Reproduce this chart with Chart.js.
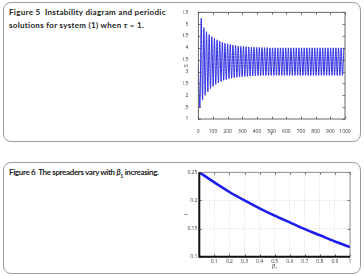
<!DOCTYPE html>
<html lang="en">
<head>
<meta charset="UTF-8">
<title>Figures 5 and 6</title>
<script src="https://cdn.jsdelivr.net/npm/chart.js"></script>
<style>
    html, body { margin: 0; padding: 0; background: #fff; }
    body { width: 364px; height: 276px; position: relative; overflow: hidden; font-family: Lato, sans-serif; }
    .panel { position: absolute; left: 3px; width: 358px; border: 1px solid #9a9a9a; border-radius: 8px; box-sizing: border-box; }
    #panel5 { top: 2px; height: 140px; }
    #panel6 { top: 162px; height: 112px; }
    .caption { position: absolute; left: 9px; font-size: 8px; font-weight: bold; line-height: 13px; color: #222; white-space: nowrap; }
    .caption sub { font-size: 5.4px; line-height: 0; }
    #cap5 { top: 6px; letter-spacing: 0.3px; }
    #cap6 { top: 166px; letter-spacing: -0.35px; }
    canvas { position: absolute; }
    #chart5 { left: 180px; top: 3px; }
    #chart6 { left: 180px; top: 163px; }
</style>
<script>
// Figure 5: peaks and troughs of S(t)
const peakTimes = [20, 38, 56, 74, 92, 110, 128, 146, 164, 182, 200, 218, 236, 254, 272, 290, 308, 326, 344, 362,
    380, 398, 416, 434, 452, 470, 488, 506, 524, 542, 560, 578, 596, 614, 632, 650, 668, 686, 704, 722,
    740, 758, 776, 794, 812, 830, 848, 866, 884, 902, 920, 938, 956, 974, 992];
const peakValues = [5.25, 4.85, 4.68, 4.56, 4.47, 4.40, 4.34, 4.29, 4.24, 4.20, 4.17, 4.14, 4.12, 4.10, 4.08, 4.07, 4.06, 4.05, 4.04, 4.03,
    4.03, 4.02, 4.02, 4.01, 4.01, 4.01, 4.00, 4.00, 4.00, 4.00, 4.00, 4.00, 4.00, 4.00, 4.00, 4.00, 4.00, 4.00, 4.00, 4.00,
    4.00, 4.00, 4.00, 4.00, 4.00, 4.00, 4.00, 4.00, 4.00, 4.00, 4.00, 4.00, 4.00, 4.00, 4.00];
const troughTimes = [11, 29, 47, 65, 83, 101, 119, 137, 155, 173, 191, 209, 227, 245, 263, 281, 299, 317, 335, 353,
    371, 389, 407, 425, 443, 461, 479, 497, 515, 533, 551, 569, 587, 605, 623, 641, 659, 677, 695, 713,
    731, 749, 767, 785, 803, 821, 839, 857, 875, 893, 911, 929, 947, 965, 983];
const troughValues = [1.50, 1.80, 2.00, 2.15, 2.28, 2.38, 2.46, 2.53, 2.58, 2.63, 2.66, 2.69, 2.72, 2.74, 2.76, 2.77, 2.78, 2.79, 2.80, 2.81,
    2.82, 2.82, 2.83, 2.83, 2.84, 2.84, 2.84, 2.84, 2.84, 2.84, 2.84, 2.84, 2.84, 2.84, 2.84, 2.84, 2.84, 2.84, 2.84, 2.84,
    2.84, 2.84, 2.84, 2.84, 2.84, 2.84, 2.84, 2.84, 2.84, 2.84, 2.84, 2.84, 2.84, 2.84, 2.84];
const startTime = 0;
const startValue = 3.2;
const tTicks = ['0', '100', '200', '300', '400', '500', '600', '700', '800', '900', '1000'];
const sTicks = ['1', '1.5', '2', '2.5', '3', '3.5', '4', '4.5', '5', '5.5'];

// Figure 6: spreaders I against beta1
const betaValues = [0, 0.1, 0.2, 0.3, 0.4, 0.5, 0.6, 0.7, 0.8, 0.9, 1];
const spreaderValues = [0.25, 0.232, 0.215, 0.200, 0.186, 0.173, 0.161, 0.149, 0.138, 0.127, 0.117];
const betaTicks = ['', '0.1', '0.2', '0.3', '0.4', '0.5', '0.6', '0.7', '0.8', '0.9', '1'];
const iTicks = ['0.1', '0.15', '0.2', '0.25'];

// draws a MATLAB style box with inward ticks
const matlabAxes = {
    id: 'matlabAxes',
    afterDatasetsDraw(chart, args, opts) {
        const ctx = chart.ctx;
        const a = chart.chartArea;
        const x = chart.scales.x;
        const y = chart.scales.y;
        const len = 2.5;
        ctx.save();
        ctx.strokeStyle = opts.tickColor || '#444';
        ctx.lineWidth = 0.7;
        ctx.beginPath();
        x.ticks.forEach(t => {
            const px = Math.round(x.getPixelForValue(t.value)) + 0.5;
            ctx.moveTo(px, a.bottom); ctx.lineTo(px, a.bottom - len);
            ctx.moveTo(px, a.top); ctx.lineTo(px, a.top + len);
        });
        y.ticks.forEach(t => {
            const py = Math.round(y.getPixelForValue(t.value)) + 0.5;
            ctx.moveTo(a.left, py); ctx.lineTo(a.left + len, py);
            ctx.moveTo(a.right, py); ctx.lineTo(a.right - len, py);
        });
        ctx.stroke();
        ctx.strokeStyle = opts.boxColor || '#444';
        ctx.lineWidth = 0.8;
        ctx.strokeRect(a.left, a.top, a.right - a.left, a.bottom - a.top);
        if (opts.thick) {
            ctx.strokeStyle = '#111';
            ctx.lineWidth = 2;
            ctx.beginPath();
            ctx.moveTo(a.left, a.top);
            ctx.lineTo(a.left, a.bottom);
            ctx.lineTo(a.right, a.bottom);
            ctx.stroke();
        }
        ctx.restore();
    }
};

document.addEventListener("DOMContentLoaded", function () {
    Chart.defaults.font.family = "'Open Sans', sans-serif";
    Chart.defaults.color = '#333';

    // build S(t) points from peaks and troughs
    const sPoints = [{ x: startTime, y: startValue }];
    for (let i = 0; i < peakTimes.length; i++) {
        sPoints.push({ x: troughTimes[i], y: troughValues[i] });
        sPoints.push({ x: peakTimes[i], y: peakValues[i] });
    }

    new Chart(document.getElementById('chart5'), {
        type: 'line',
        data: {
            datasets: [{
                data: sPoints,
                borderColor: 'rgb(45, 45, 225)',
                borderWidth: 1,
                pointRadius: 0,
                tension: 0.3
            }]
        },
        options: {
            responsive: false,
            animation: false,
            layout: { padding: { left: 3, right: 15, top: 9.3, bottom: 0 } },
            plugins: { legend: { display: false }, tooltip: { enabled: false }, matlabAxes: {} },
            scales: {
                x: {
                    type: 'linear', min: 0, max: 1000,
                    afterBuildTicks: s => { s.ticks = tTicks.map(l => ({ value: Number(l) })); },
                    afterFit: s => { s.height = 21; },
                    ticks: { font: { size: 5 }, padding: 2, maxRotation: 0, autoSkip: false, callback: (v, i) => tTicks[i] },
                    grid: { display: false },
                    border: { display: false },
                    title: { display: true, text: 't', font: { size: 5.5 }, padding: { top: 0, bottom: 3 } }
                },
                y: {
                    type: 'linear', min: 1, max: 5.5,
                    afterBuildTicks: s => { s.ticks = sTicks.map(l => ({ value: Number(l) })); },
                    afterFit: s => { s.width = 15.3; },
                    ticks: { font: { size: 5 }, padding: 2, autoSkip: false, callback: (v, i) => sTicks[i] },
                    grid: { display: false },
                    border: { display: false },
                    title: { display: true, text: 'S', font: { size: 5.5 }, padding: 0 }
                }
            }
        },
        plugins: [matlabAxes]
    });

    new Chart(document.getElementById('chart6'), {
        type: 'line',
        data: {
            datasets: [{
                data: betaValues.map((b, i) => ({ x: b, y: spreaderValues[i] })),
                borderColor: 'rgb(28, 28, 235)',
                borderWidth: 2.6,
                pointRadius: 0,
                cubicInterpolationMode: 'monotone'
            }]
        },
        options: {
            responsive: false,
            animation: false,
            layout: { padding: { left: 3, right: 10, top: 9.3, bottom: 0 } },
            plugins: { legend: { display: false }, tooltip: { enabled: false }, matlabAxes: { thick: true, boxColor: '#777' } },
            scales: {
                x: {
                    type: 'linear', min: 0, max: 1,
                    afterBuildTicks: s => { s.ticks = betaTicks.map((l, i) => ({ value: betaValues[i] })); },
                    afterFit: s => { s.height = 16.3; },
                    ticks: { font: { size: 5 }, padding: 2, maxRotation: 0, autoSkip: false, callback: (v, i) => betaTicks[i] },
                    grid: { color: '#c8c8c8', lineWidth: 0.6, drawTicks: false },
                    border: { display: false, dash: [1, 1.5] },
                    title: { display: true, text: 'β₁', font: { size: 5.5 }, padding: { top: 0, bottom: 3 } }
                },
                y: {
                    type: 'linear', min: 0.1, max: 0.25,
                    afterBuildTicks: s => { s.ticks = iTicks.map(l => ({ value: Number(l) })); },
                    afterFit: s => { s.width = 16.3; },
                    ticks: { font: { size: 5 }, padding: 2, autoSkip: false, callback: (v, i) => iTicks[i] },
                    grid: { color: '#c8c8c8', lineWidth: 0.6, drawTicks: false },
                    border: { display: false, dash: [1, 1.5] },
                    title: { display: true, text: 'I', font: { size: 5.5 }, padding: 0 }
                }
            }
        },
        plugins: [matlabAxes]
    });
});
</script>
</head>
<body>
    <div class="panel" id="panel5"></div>
    <div class="panel" id="panel6"></div>
    <div class="caption" id="cap5">Figure 5&nbsp; Instability diagram and periodic<br>solutions for system (1) when <i>τ</i> = 1.</div>
    <div class="caption" id="cap6">Figure 6&nbsp; The spreaders vary with <i>β</i><sub>1</sub> increasing.</div>
    <canvas id="chart5" width="180" height="137"></canvas>
    <canvas id="chart6" width="180" height="110"></canvas>
</body>
</html>
